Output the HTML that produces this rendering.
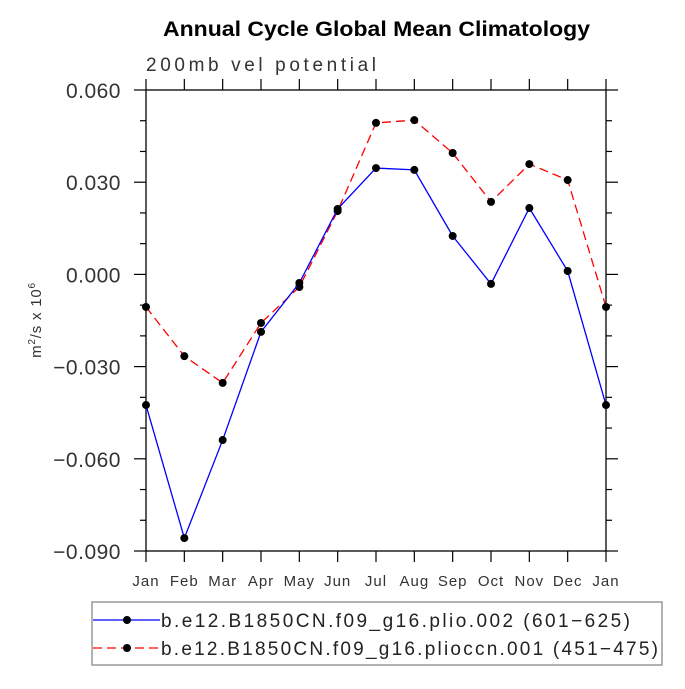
<!DOCTYPE html>
<html><head><meta charset="utf-8"><style>
body{margin:0;background:#fff;}
svg text{font-family:"Liberation Sans",sans-serif;}
</style></head><body>
<svg id="chart" width="685" height="684" xmlns="http://www.w3.org/2000/svg">
<text x="163" y="36" textLength="427" lengthAdjust="spacingAndGlyphs" font-size="21" font-weight="bold">Annual Cycle Global Mean Climatology</text>
<text x="146" y="71" font-size="19" fill="#333" textLength="230" lengthAdjust="spacing">200mb vel potential</text>
<text transform="translate(41,320) rotate(-90)" text-anchor="middle" font-size="15" fill="#333" letter-spacing="0.8">m<tspan font-size="10" dy="-6">2</tspan><tspan dy="6">/s x 10</tspan><tspan font-size="10" dy="-6">6</tspan></text>
<g id="axes"></g><g id="series"></g>
<rect x="92" y="602" width="570" height="63" fill="none" stroke="#999" stroke-width="1.5"/>
<g>
<line x1="93" y1="620" x2="160" y2="620" stroke="#0000ff" stroke-width="1.3"/><circle cx="127" cy="620" r="4"/>
<text x="161" y="627" font-size="19" fill="#222" textLength="469" lengthAdjust="spacing">b.e12.B1850CN.f09_g16.plio.002 (601−625)</text></g>
<g>
<line x1="93" y1="648" x2="160" y2="648" stroke="#ff0000" stroke-width="1.3" stroke-dasharray="9,5"/><circle cx="127" cy="648" r="4"/>
<text x="161" y="655" font-size="19" fill="#222" textLength="497" lengthAdjust="spacing">b.e12.B1850CN.f09_g16.plioccn.001 (451−475)</text></g>
</svg>
<script>
const months=["Jan","Feb","Mar","Apr","May","Jun","Jul","Aug","Sep","Oct","Nov","Dec","Jan"];
const plio=[-0.0425,-0.0858,-0.0539,-0.0187,-0.0028,0.0213,0.0346,0.0340,0.0125,-0.0031,0.0216,0.0011,-0.0425];
const pliocn=[-0.0106,-0.0266,-0.0353,-0.0158,-0.0041,0.0206,0.0493,0.0502,0.0395,0.0236,0.0359,0.0307,-0.0106];
const yTicks=[0.060,0.030,0.000,-0.030,-0.060,-0.090];
const yTickLabels=["0.060","0.030","0.000","\u22120.030","\u22120.060","\u22120.090"];
const L=146,R=606,T=90,B=551,ymin=-0.09,ymax=0.06;
const xs=i=>L+(R-L)*i/(months.length-1);
const ys=v=>B-(v-ymin)/(ymax-ymin)*(B-T);
const NS="http://www.w3.org/2000/svg";
function mk(tag,at,parent){const e=document.createElementNS(NS,tag);for(const k in at)e.setAttribute(k,at[k]);parent.appendChild(e);return e;}
const ax=document.getElementById('axes');
const frame=mk('rect',{x:L,y:T,width:R-L,height:B-T,fill:'none',stroke:'#000','stroke-width':1.3},ax);


months.forEach((m,i)=>{const x=xs(i);
 mk('line',{x1:x,y1:B,x2:x,y2:B+11,stroke:'#000','stroke-width':1.2},ax);
 mk('line',{x1:x,y1:T,x2:x,y2:T-11,stroke:'#000','stroke-width':1.2},ax);
 const t=mk('text',{x:x,y:586,'text-anchor':'middle','font-size':15,fill:'#333','letter-spacing':1},ax);t.textContent=m;
 
 
});
for(let v=ymin;v<=ymax+1e-9;v+=0.01){const y=ys(v);const major=Math.abs(Math.round(v*1000)%30)===0;const len=major?12:6;
 mk('line',{x1:L-len,y1:y,x2:L,y2:y,stroke:'#000','stroke-width':1.2},ax);
 mk('line',{x1:R,y1:y,x2:R+len,y2:y,stroke:'#000','stroke-width':1.2},ax);}
yTicks.forEach((v,i)=>{const t=mk('text',{x:121,y:ys(v)+8,'text-anchor':'end','font-size':21,fill:'#333','letter-spacing':0.5},ax);t.textContent=yTickLabels[i];
 
 });
const sg=document.getElementById('series');
function series(vals,color,dash,name){const g=mk('g',{},sg);
 
 
 mk('polyline',{points:vals.map((v,i)=>xs(i)+','+ys(v)).join(' '),fill:'none',stroke:color,'stroke-width':1.3,'stroke-dasharray':dash},g);
 vals.forEach((v,i)=>{const c=mk('circle',{cx:xs(i),cy:ys(v),r:4,fill:'#000'},g);
  
  });}
series(pliocn,'#ff0000','9,5','series-plioccn');
series(plio,'#0000ff','none','series-plio');
</script>
</body></html>
